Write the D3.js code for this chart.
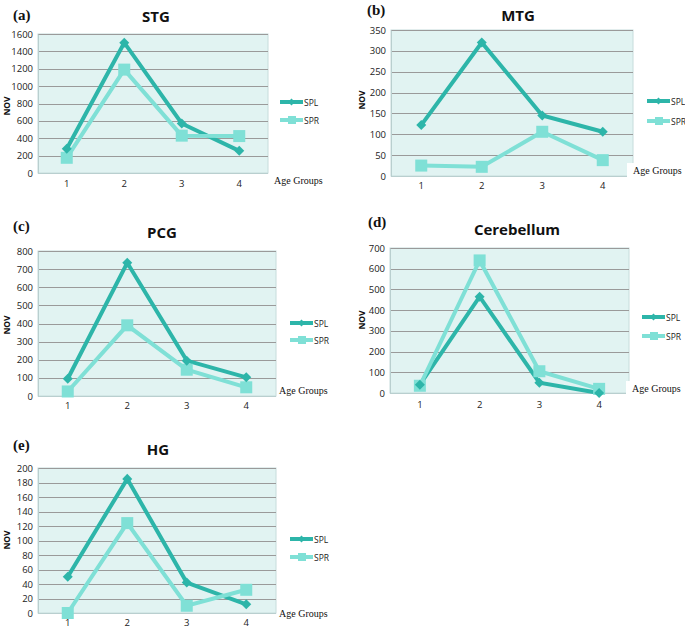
<!DOCTYPE html>
<html>
<head>
<meta charset="utf-8">
<script src="https://cdn.jsdelivr.net/npm/d3@7"></script>
<style>
  html, body { margin: 0; padding: 0; background: #fff; }
  svg { display: block; }
</style>
</head>
<body>
<svg id="chart" width="685" height="630"></svg>
<script>
// ---- Data ----
const ageGroups = ["1", "2", "3", "4"];
const seriesNames = ["SPL", "SPR"];

const stgSPL = [280, 1500, 570, 255];
const stgSPR = [175, 1190, 430, 425];
const stgTicks = [0, 200, 400, 600, 800, 1000, 1200, 1400, 1600];

const mtgSPL = [122, 320, 145, 106];
const mtgSPR = [25, 22, 106, 38];
const mtgTicks = [0, 50, 100, 150, 200, 250, 300, 350];

const pcgSPL = [95, 735, 195, 103];
const pcgSPR = [25, 390, 145, 48];
const pcgTicks = [0, 100, 200, 300, 400, 500, 600, 700, 800];

const cerSPL = [40, 465, 50, 0];
const cerSPR = [35, 640, 105, 20];
const cerTicks = [0, 100, 200, 300, 400, 500, 600, 700];

const hgSPL = [50, 185, 42, 12];
const hgSPR = [0, 124, 10, 32];
const hgTicks = [0, 20, 40, 60, 80, 100, 120, 140, 160, 180, 200];

const panelLabels = ["(a)", "(b)", "(c)", "(d)", "(e)"];
const panelTitles = ["STG", "MTG", "PCG", "Cerebellum", "HG"];

// ---- Styles ----
const colSPL = "#2db5a9";
const colSPR = "#7fe0d6";
const bgFill = "#e1f3f2";
const gridCol = "#9a9a9a";

// ---- Layouts ----
const layouts = [
  { left: 38, right: 268, top: 34, bottom: 173, tx: 156, ty: 22, lx: 13, ly: 20,
    legX: 280, legY: [102, 120], agX: 274, agY: 184, agBox: false, xtY: 187, novX: 7, novY: 106 },
  { left: 391, right: 633, top: 30, bottom: 176, tx: 518, ty: 21, lx: 367, ly: 15,
    legX: 647, legY: [101, 121], agX: 633, agY: 174, agBox: true, xtY: 189, novX: 362, novY: 100 },
  { left: 38, right: 276, top: 251, bottom: 396, tx: 162, ty: 238, lx: 13, ly: 231,
    legX: 290, legY: [323, 340], agX: 279, agY: 394, agBox: false, xtY: 409, novX: 7, novY: 325 },
  { left: 390, right: 629, top: 248, bottom: 393, tx: 517, ty: 235, lx: 368, ly: 227,
    legX: 642, legY: [317, 336], agX: 632, agY: 392, agBox: true, xtY: 408, novX: 362, novY: 320 },
  { left: 38, right: 276, top: 468, bottom: 613, tx: 158, ty: 455, lx: 13, ly: 450,
    legX: 290, legY: [539, 557], agX: 279, agY: 617, agBox: false, xtY: 626, novX: 7, novY: 540 }
];

const panels = [
  { spl: stgSPL, spr: stgSPR, ticks: stgTicks },
  { spl: mtgSPL, spr: mtgSPR, ticks: mtgTicks },
  { spl: pcgSPL, spr: pcgSPR, ticks: pcgTicks },
  { spl: cerSPL, spr: cerSPR, ticks: cerTicks },
  { spl: hgSPL, spr: hgSPR, ticks: hgTicks }
];

const svg = d3.select("#chart");
const sans = "'Open Sans', 'Noto Sans', sans-serif";
const serif = "'Liberation Serif', 'DejaVu Serif', serif";

panels.forEach((p, i) => {
  const L = layouts[i];
  const g = svg.append("g");
  const x = d3.scaleBand().domain(ageGroups).range([L.left, L.right]);
  const tmax = p.ticks[p.ticks.length - 1];
  const y = d3.scaleLinear().domain([0, tmax]).range([L.bottom, L.top]);

  // background
  g.append("rect")
    .attr("x", L.left).attr("y", L.top)
    .attr("width", L.right - L.left).attr("height", L.bottom - L.top)
    .attr("fill", bgFill).attr("stroke", "#c6dcdc").attr("stroke-width", 1);

  // grid lines
  g.selectAll(".grid").data(p.ticks.slice(1)).enter().append("line")
    .attr("x1", L.left).attr("x2", L.right)
    .attr("y1", d => Math.round(y(d)) + 0.5).attr("y2", d => Math.round(y(d)) + 0.5)
    .attr("stroke", gridCol).attr("stroke-width", 1);

  // axes
  const yAxis = d3.axisLeft(y).tickValues(p.ticks).tickFormat(d3.format("d")).tickSize(0).tickPadding(5);
  const ya = g.append("g").attr("transform", `translate(${L.left},0)`).call(yAxis);
  ya.select(".domain").attr("stroke", "#b9cfcf");
  ya.selectAll("text").attr("font-family", sans).attr("font-size", 9.5).attr("fill", "#222");

  const xAxis = d3.axisBottom(x).tickSize(0).tickPadding(0);
  const xa = g.append("g").attr("transform", `translate(0,${L.xtY - 7})`).call(xAxis);
  xa.select(".domain").remove();
  xa.selectAll("text").attr("font-family", sans).attr("font-size", 9.5).attr("fill", "#222").attr("dy", "0.71em");

  // bottom axis line
  g.append("line").attr("x1", L.left).attr("x2", L.right)
    .attr("y1", L.bottom + 0.5).attr("y2", L.bottom + 0.5)
    .attr("stroke", "#b9cfcf");

  // series lines
  const line = d3.line().x((d, j) => x(ageGroups[j]) + x.bandwidth() / 2).y(d => y(d));
  [["spl", colSPL], ["spr", colSPR]].forEach(([k, c]) => {
    g.append("path").datum(p[k]).attr("d", line)
      .attr("fill", "none").attr("stroke", c).attr("stroke-width", 4)
      .attr("stroke-linejoin", "miter");
  });
  // markers: SPR squares, SPL diamonds
  g.selectAll(".sq").data(p.spr).enter().append("rect")
    .attr("x", (d, j) => x(ageGroups[j]) + x.bandwidth() / 2 - 6)
    .attr("y", d => y(d) - 6)
    .attr("width", 12).attr("height", 12).attr("fill", colSPR);
  const diamond = d3.symbol().type(d3.symbolDiamond2).size(64);
  g.selectAll(".dm").data(p.spl).enter().append("path")
    .attr("d", diamond)
    .attr("transform", (d, j) => `translate(${x(ageGroups[j]) + x.bandwidth() / 2},${y(d)})`)
    .attr("fill", colSPL);

  // title & label
  g.append("text").attr("x", L.tx).attr("y", L.ty).attr("text-anchor", "middle")
    .attr("font-family", sans).attr("font-weight", "bold").attr("font-size", 15)
    .attr("fill", "#111").text(panelTitles[i]);
  g.append("text").attr("x", L.lx).attr("y", L.ly)
    .attr("font-family", serif).attr("font-weight", "bold").attr("font-size", 15)
    .attr("fill", "#111").text(panelLabels[i]);

  // Y axis title
  g.append("text").attr("transform", `translate(${L.novX + 3},${L.novY}) rotate(-90)`)
    .attr("text-anchor", "middle").attr("font-family", sans).attr("font-weight", "bold")
    .attr("font-size", 8.5).attr("fill", "#111").text("NOV");

  // Age Groups
  if (L.agBox) {
    g.append("rect").attr("x", L.agX - 6).attr("y", L.agY - 11)
      .attr("width", 685 - (L.agX - 6)).attr("height", 15).attr("fill", "#fff");
  }
  g.append("text").attr("x", L.agX).attr("y", L.agY)
    .attr("font-family", serif).attr("font-size", 10).attr("fill", "#111").text("Age Groups");

  // legend
  seriesNames.forEach((nm, j) => {
    const c = j === 0 ? colSPL : colSPR;
    const ly = L.legY[j];
    g.append("line").attr("x1", L.legX).attr("x2", L.legX + 23)
      .attr("y1", ly).attr("y2", ly).attr("stroke", c).attr("stroke-width", 4);
    if (j === 0) {
      g.append("path").attr("d", d3.symbol().type(d3.symbolDiamond2).size(30))
        .attr("transform", `translate(${L.legX + 11.5},${ly})`).attr("fill", c);
    } else {
      g.append("rect").attr("x", L.legX + 8).attr("y", ly - 4).attr("width", 8).attr("height", 8).attr("fill", c);
    }
    g.append("text").attr("x", L.legX + 24).attr("y", ly + 3.5)
      .attr("font-family", sans).attr("font-size", 8.5).attr("fill", "#222").text(nm);
  });
});
</script>
</body>
</html>
